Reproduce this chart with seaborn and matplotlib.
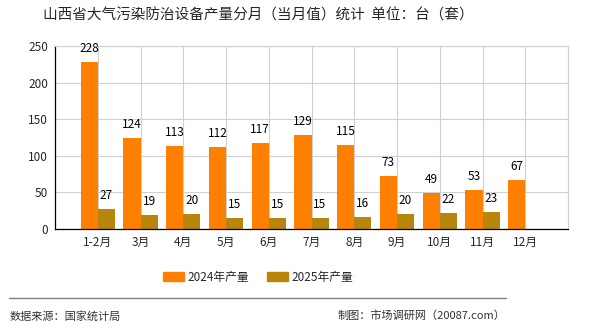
import seaborn as sns
import matplotlib.pyplot as plt
from matplotlib.lines import Line2D
import pandas as pd
import numpy as np

months = ["1-2月", "3月", "4月", "5月", "6月", "7月", "8月", "9月", "10月", "11月", "12月"]
prod_2024 = [228, 124, 113, 112, 117, 129, 115, 73, 49, 53, 67]
prod_2025 = [27, 19, 20, 15, 15, 15, 16, 20, 22, 23]
series = ["2024年产量", "2025年产量"]
colors = ["#FF8000", "#B8860B"]

rows = []
for m, v in zip(months, prod_2024):
    rows.append({"月份": m, "系列": series[0], "产量": v})
for m, v in zip(months, prod_2025):
    rows.append({"月份": m, "系列": series[1], "产量": v})
df = pd.DataFrame(rows)

sns.set_style("white")
plt.rcParams['font.family'] = ['Noto Sans CJK SC', 'DejaVu Sans']

fig = plt.figure(figsize=(5.9, 3.3), dpi=100)
ax = fig.add_axes([55/590, 1-229/330, (568-55)/590, (229-46)/330])

sns.barplot(data=df, x="月份", y="产量", hue="系列", order=months, hue_order=series,
            palette=colors, width=0.8, saturation=1, linewidth=0, ax=ax, legend=False)

for c in ax.containers:
    ax.bar_label(c, fmt='%d', padding=5, fontsize=8.5, color='black')

ax.set_xlim(-1, 11)
ax.set_ylim(0, 250)
ax.set_yticks(range(0, 251, 50))
ax.set_xticks(range(-1, 12))
ax.set_xticklabels([""] + months + [""])
ax.tick_params(axis='both', labelsize=8.5, length=3, color='black', pad=2)
ax.set_xlabel("")
ax.set_ylabel("")
ax.set_axisbelow(True)
ax.grid(True, color='#d0d0d0', linewidth=0.8)
for s in ["top", "right"]:
    ax.spines[s].set_color('#d0d0d0')
for s in ["left", "bottom"]:
    ax.spines[s].set_color('black')
    ax.spines[s].set_linewidth(0.9)

fig.text(258/590, 1-16/330, "山西省大气污染防治设备产量分月（当月值）统计  单位：台（套）",
         ha='center', va='center', fontsize=10.5)

handles = [plt.Rectangle((0, 0), 1, 1, color=c) for c in colors]
fig.legend(handles, series, loc='center', bbox_to_anchor=(258/590, 1-277/330), ncol=2,
           frameon=False, fontsize=8.5, handlelength=1.8, handleheight=0.8, columnspacing=1.5,
           handletextpad=0.3)

fig.add_artist(Line2D([9/590, 506/590], [1-298/330, 1-298/330], color='#808080', linewidth=1))
fig.text(10/590, 1-316/330, "数据来源：国家统计局", ha='left', va='center', fontsize=8, color='#333333')
fig.text(505/590, 1-316/330, "制图：市场调研网（20087.com）", ha='right', va='center', fontsize=8, color='#333333')

fig.savefig("out.png", dpi=100)
